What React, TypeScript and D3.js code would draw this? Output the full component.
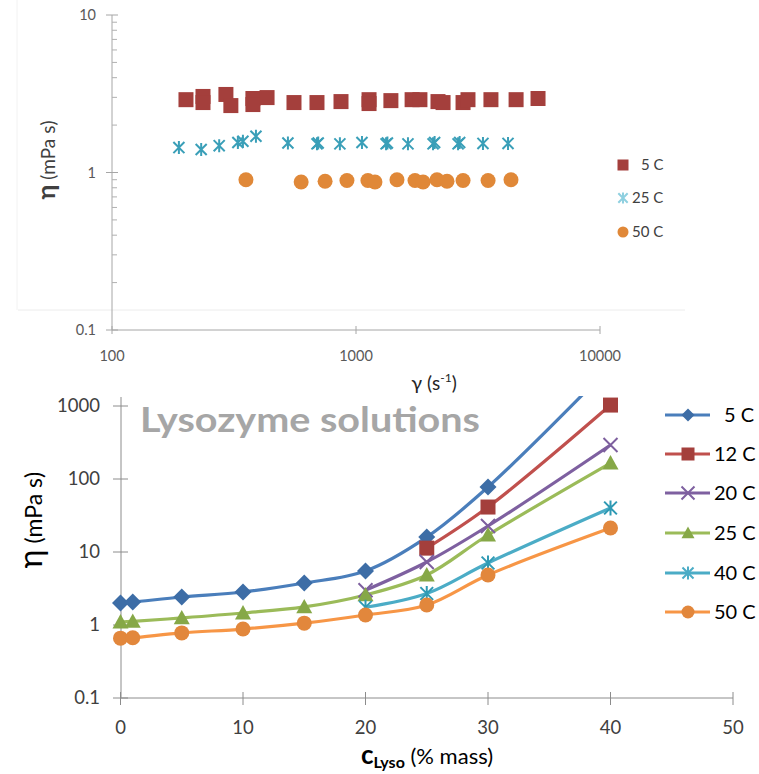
import React from 'react';
import * as d3 from 'd3';

// ---------- Top chart data ----------
const topGamma5C = [201, 236, 236, 293, 307, 378, 378, 432, 557, 692, 868, 1131, 1131, 1390, 1698, 1828, 2168, 2274, 2746, 2877, 3573, 4530, 5572];
const topEta5C = [2.9, 3.04, 2.78, 3.13, 2.66, 2.95, 2.7, 2.99, 2.78, 2.78, 2.82, 2.9, 2.74, 2.86, 2.9, 2.9, 2.82, 2.78, 2.78, 2.9, 2.9, 2.9, 2.95];
const topGamma25C = [188, 232, 275, 328, 344, 389, 526, 692, 700, 859, 1058, 1328, 1345, 1633, 2069, 2100, 2620, 2660, 3314, 4198];
const topEta25C = [1.44, 1.4, 1.48, 1.55, 1.58, 1.7, 1.54, 1.52, 1.54, 1.52, 1.55, 1.52, 1.54, 1.52, 1.52, 1.55, 1.52, 1.55, 1.53, 1.53];
const topGamma50C = [354, 596, 747, 918, 1119, 1196, 1472, 1745, 1883, 2148, 2361, 2746, 3478, 4317];
const topEta50C = [0.9, 0.87, 0.88, 0.89, 0.89, 0.87, 0.9, 0.89, 0.87, 0.9, 0.88, 0.89, 0.89, 0.9];
const topXTicks = [100, 1000, 10000];
const topYTicks = [0.1, 1, 10];
const topLegend = ['5 C', '25 C', '50 C'];

// ---------- Bottom chart data ----------
const concentrations = [0, 1, 5, 10, 15, 20, 25, 30, 40];
const eta5C = [2.0, 2.06, 2.42, 2.83, 3.76, 5.5, 16.0, 77.6, 3500];
const eta12C = [null, null, null, null, null, null, 11.3, 41.3, 1030];
const eta20C = [null, null, null, null, null, 3.0, 7.3, 22.7, 292];
const eta25C = [1.1, 1.12, 1.25, 1.46, 1.77, 2.58, 4.84, 17.1, 165];
const eta40C = [null, null, null, null, null, 1.75, 2.7, 7.06, 40.1];
const eta50C = [0.66, 0.67, 0.78, 0.88, 1.06, 1.37, 1.88, 4.84, 21.3];
const bottomXTicks = [0, 10, 20, 30, 40, 50];
const bottomYTicks = [0.1, 1, 10, 100, 1000];
const bottomSeriesNames = ['5 C', '12 C', '20 C', '25 C', '40 C', '50 C'];

const FONT = "Lato, 'Open Sans', sans-serif";

type MType = 'diamond' | 'square' | 'x' | 'triangle' | 'asterisk' | 'circle';

function Marker({ type, x, y, s, fill, stroke }: { type: MType; x: number; y: number; s: number; fill: string; stroke?: string }) {
  const h = s / 2;
  if (type === 'square') return <rect x={x - h} y={y - h} width={s} height={s} fill={fill} />;
  if (type === 'circle') return <circle cx={x} cy={y} r={h} fill={fill} />;
  if (type === 'diamond')
    return <path d={`M${x},${y - h}L${x + h},${y}L${x},${y + h}L${x - h},${y}Z`} fill={fill} />;
  if (type === 'triangle')
    return <path d={`M${x},${y - h}L${x + h},${y + h * 0.8}L${x - h},${y + h * 0.8}Z`} fill={fill} />;
  if (type === 'x')
    return (
      <path d={`M${x - h},${y - h}L${x + h},${y + h}M${x - h},${y + h}L${x + h},${y - h}`} stroke={stroke || fill} strokeWidth={2} fill="none" />
    );
  const d = h * 0.85;
  return (
    <path
      d={`M${x},${y - h}L${x},${y + h}M${x - d},${y - d}L${x + d},${y + d}M${x - d},${y + d}L${x + d},${y - d}`}
      stroke={stroke || fill}
      strokeWidth={2}
      fill="none"
    />
  );
}

export default function App() {
  const tx = d3.scaleLog().domain([100, 10000]).range([112, 600]);
  const ty = d3.scaleLog().domain([0.1, 10]).range([330, 15]);
  const topMinor: number[] = [];
  [0.1, 1].forEach((dec) => {
    for (let k = 2; k <= 9; k++) topMinor.push(dec * k);
  });

  const topSeries = [
    { g: topGamma5C, e: topEta5C, type: 'square' as MType, color: '#a43f3c', size: 15 },
    { g: topGamma25C, e: topEta25C, type: 'asterisk' as MType, color: '#3a9fb8', size: 13 },
    { g: topGamma50C, e: topEta50C, type: 'circle' as MType, color: '#e08838', size: 15 },
  ];

  const bx = d3.scaleLinear().domain([0, 50]).range([120.5, 733]);
  const by = d3.scaleLog().domain([0.1, 1000]).range([698, 406]);

  const bottomSeries = [
    { vals: eta5C, type: 'diamond' as MType, line: '#4a7ebb', mark: '#3d6da6', size: 17 },
    { vals: eta12C, type: 'square' as MType, line: '#c0504d', mark: '#a43f3c', size: 15 },
    { vals: eta20C, type: 'x' as MType, line: '#7e60a0', mark: '#7d5f9e', size: 14 },
    { vals: eta25C, type: 'triangle' as MType, line: '#9bbb59', mark: '#86a847', size: 16 },
    { vals: eta40C, type: 'asterisk' as MType, line: '#4bacc6', mark: '#2f9ab4', size: 15 },
    { vals: eta50C, type: 'circle' as MType, line: '#f79646', mark: '#e2873c', size: 15 },
  ];

  const lineGen = d3
    .line<[number, number]>()
    .x((d) => bx(d[0]))
    .y((d) => by(d[1]))
    .curve(d3.curveCatmullRom.alpha(0.5));

  const legendY = [415, 454, 493, 533, 573, 612];

  return (
    <svg width={759} height={774} style={{ position: 'absolute', left: 0, top: 0, background: '#fff' }} fontFamily={FONT}>
      <defs>
        <clipPath id="bclip">
          <rect x={100} y={396} width={660} height={320} />
        </clipPath>
      </defs>

      <line x1={18} x2={685} y1={310} y2={310} stroke="#ececec" strokeWidth={1} />
      <line x1={17} x2={17} y1={0} y2={310} stroke="#f2f2f2" strokeWidth={1} />

      {/* ---------- TOP CHART ---------- */}
      <g>
        <line x1={112} x2={112} y1={ty(10)} y2={ty(0.1)} stroke="#a6a6a6" />
        <line x1={112} x2={600} y1={ty(0.1)} y2={ty(0.1)} stroke="#a6a6a6" />
        {topYTicks.map((t) => (
          <g key={'ty' + t}>
            <line x1={106} x2={118} y1={ty(t)} y2={ty(t)} stroke="#a6a6a6" />
            <text x={96} y={ty(t) + 5} textAnchor="end" fontSize={14.5} fill="#595959">
              {t}
            </text>
          </g>
        ))}
        {topMinor.map((t) => (
          <line key={'tm' + t} x1={112} x2={117} y1={ty(t)} y2={ty(t)} stroke="#b0b0b0" />
        ))}
        {topXTicks.map((t) => (
          <g key={'tx' + t}>
            <line x1={tx(t)} x2={tx(t)} y1={326} y2={334} stroke="#a6a6a6" />
            <text x={tx(t)} y={361} textAnchor="middle" fontSize={14.5} fill="#595959">
              {t}
            </text>
          </g>
        ))}
        <text transform="translate(55,160) rotate(-90)" textAnchor="middle" fill="#404040">
          <tspan fontSize={25} fontWeight="bold">η</tspan>
          <tspan fontSize={19}> (mPa s)</tspan>
        </text>
        <text x={434} y={390} textAnchor="middle" fill="#262626" fontSize={19}>
          <tspan fontSize={20}>γ</tspan>
          <tspan> (s</tspan>
          <tspan fontSize={12} dy={-8}>-1</tspan>
          <tspan dy={8}>)</tspan>
        </text>

        {topSeries.map((s, si) =>
          s.g.map((g, i) => (
            <Marker key={`t${si}-${i}`} type={s.type} x={tx(g)} y={ty(s.e[i])} s={s.size} fill={s.color} />
          ))
        )}

        {topLegend.map((name, i) => {
          const ly = [165, 198, 232][i];
          const s = topSeries[i];
          return (
            <g key={'tl' + name}>
              <Marker type={s.type} x={623} y={ly} s={11} fill={i === 1 ? '#8fd0e0' : s.color} />
              <text x={i === 0 ? 641 : 632} y={ly + 5} fontSize={15} fill="#404040">
                {name}
              </text>
            </g>
          );
        })}
      </g>

      {/* ---------- BOTTOM CHART ---------- */}
      <g>
        <line x1={121} x2={121} y1={397} y2={698} stroke="#8c8c8c" />
        <line x1={121} x2={733} y1={698} y2={698} stroke="#8c8c8c" />
        {bottomYTicks.map((t) => (
          <g key={'by' + t}>
            <line x1={113} x2={128} y1={by(t)} y2={by(t)} stroke="#8c8c8c" />
            <text x={100} y={by(t) + 6} textAnchor="end" fontSize={18.5} fill="#404040">
              {t}
            </text>
          </g>
        ))}
        {bottomXTicks.map((t) => (
          <g key={'bx' + t}>
            <line x1={bx(t)} x2={bx(t)} y1={692} y2={705} stroke="#8c8c8c" />
            <text x={bx(t)} y={734} textAnchor="middle" fontSize={18.5} fill="#404040">
              {t}
            </text>
          </g>
        ))}

        <text x={140} y={432} fontSize={35} fontWeight="bold" fill="#a6a6a6" textLength={340} lengthAdjust="spacingAndGlyphs">
          Lysozyme solutions
        </text>

        <text transform="translate(42,520) rotate(-90)" textAnchor="middle" fill="#000">
          <tspan fontSize={32}>η</tspan>
          <tspan fontSize={23}> (mPa s)</tspan>
        </text>
        <text x={427} y={764} textAnchor="middle" fill="#000">
          <tspan fontSize={26} fontWeight="bold">c</tspan>
          <tspan fontSize={16} fontWeight="bold" dy={4}>Lyso</tspan>
          <tspan fontSize={22} dy={-4}> (% mass)</tspan>
        </text>

        <g clipPath="url(#bclip)">
          {bottomSeries.map((s, si) => {
            const pts: [number, number][] = [];
            concentrations.forEach((c, i) => {
              const v = s.vals[i];
              if (v != null) pts.push([c, v]);
            });
            return (
              <path key={'bl' + si} d={lineGen(pts) || ''} fill="none" stroke={s.line} strokeWidth={3.2} strokeLinejoin="round" />
            );
          })}
          {bottomSeries.map((s, si) =>
            concentrations.map((c, i) => {
              const v = s.vals[i];
              if (v == null) return null;
              return <Marker key={`bm${si}-${i}`} type={s.type} x={bx(c)} y={by(v)} s={s.size} fill={s.mark} />;
            })
          )}
        </g>

        {bottomSeriesNames.map((name, i) => {
          const s = bottomSeries[i];
          const ly = legendY[i];
          return (
            <g key={'bleg' + name}>
              <line x1={665} x2={710} y1={ly} y2={ly} stroke={s.line} strokeWidth={3.2} />
              <Marker type={s.type} x={688} y={ly} s={13} fill={s.type === 'x' || s.type === 'asterisk' ? s.line : s.mark} />
              <text x={i === 0 ? 724 : 714} y={ly + 7} fontSize={20} fill="#000">
                {name}
              </text>
            </g>
          );
        })}
      </g>
    </svg>
  );
}
